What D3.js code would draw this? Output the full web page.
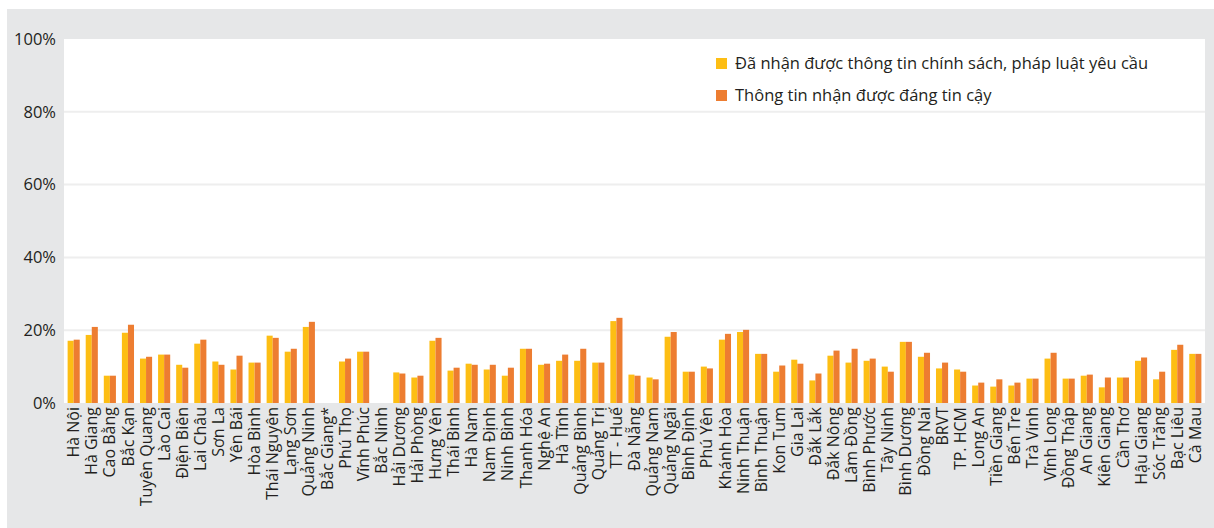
<!DOCTYPE html>
<html>
<head>
<meta charset="utf-8">
<script src="https://cdn.jsdelivr.net/npm/d3@7"></script>
<style>
  body { margin: 0; background: #fff; }
  svg { display: block; }
</style>
</head>
<body>
<div id="chart"></div>
<script>
var provinces = ["Hà Nội","Hà Giang","Cao Bằng","Bắc Kạn","Tuyên Quang","Lào Cai","Điện Biên","Lai Châu","Sơn La","Yên Bái",
  "Hòa Bình","Thái Nguyên","Lạng Sơn","Quảng Ninh","Bắc Giang*","Phú Thọ","Vĩnh Phúc","Bắc Ninh","Hải Dương","Hải Phòng",
  "Hưng Yên","Thái Bình","Hà Nam","Nam Định","Ninh Bình","Thanh Hóa","Nghệ An","Hà Tĩnh","Quảng Bình","Quảng Trị",
  "TT - Huế","Đà Nẵng","Quảng Nam","Quảng Ngãi","Bình Định","Phú Yên","Khánh Hòa","Ninh Thuận","Bình Thuận","Kon Tum",
  "Gia Lai","Đắk Lắk","Đắk Nông","Lâm Đồng","Bình Phước","Tây Ninh","Bình Dương","Đồng Nai","BRVT","TP. HCM",
  "Long An","Tiền Giang","Bến Tre","Trà Vinh","Vĩnh Long","Đồng Tháp","An Giang","Kiên Giang","Cần Thơ","Hậu Giang",
  "Sóc Trăng","Bạc Liêu","Cà Mau"];

// Đã nhận được thông tin chính sách, pháp luật yêu cầu (%)
var received = [17.1,18.7,7.5,19.3,12.2,13.3,10.5,16.3,11.4,9.2,
  11.1,18.5,14.1,20.9,0,11.4,14.1,0,8.4,7.0,
  17.1,8.9,10.8,9.2,7.5,14.9,10.5,11.6,11.6,11.1,
  22.5,7.8,7.0,18.2,8.6,10.0,17.4,19.5,13.5,8.6,
  11.9,6.2,13.0,11.1,11.6,10.0,16.8,12.7,9.5,9.2,
  4.8,4.5,4.8,6.7,12.2,6.7,7.5,4.3,7.0,11.6,
  6.5,14.6,13.5];

// Thông tin nhận được đáng tin cậy (%)
var reliable = [17.4,20.9,7.5,21.5,12.7,13.3,9.7,17.4,10.5,13.0,
  11.1,17.9,14.9,22.3,0,12.2,14.1,0,8.1,7.5,
  17.9,9.7,10.5,10.5,9.7,14.9,10.8,13.3,14.9,11.1,
  23.4,7.5,6.5,19.5,8.6,9.5,19.0,20.1,13.5,10.3,
  10.8,8.1,14.4,14.9,12.2,8.6,16.8,13.8,11.1,8.6,
  5.6,6.5,5.6,6.7,13.8,6.7,7.8,7.0,7.0,12.5,
  8.6,16.0,13.5];

var seriesNames = ["Đã nhận được thông tin chính sách, pháp luật yêu cầu", "Thông tin nhận được đáng tin cậy"];
var seriesColors = ["#FDBE14", "#ED7D31"];
var yTicks = [0, 20, 40, 60, 80, 100];

var W = 1214, H = 528;
var margin = {top: 39, right: 9, bottom: 125, left: 64};
var width = W - margin.left - margin.right,
    height = H - margin.top - margin.bottom;
var font = "'Open Sans', 'DejaVu Sans', sans-serif";

var svg = d3.select("#chart").append("svg")
  .attr("width", W)
  .attr("height", H);

svg.append("rect")
  .attr("x", 7).attr("y", 9)
  .attr("width", W - 7).attr("height", H - 9)
  .attr("fill", "#E6E7E8");

var g = svg.append("g")
  .attr("transform", "translate(" + margin.left + "," + margin.top + ")");

g.append("rect")
  .attr("width", width).attr("height", height)
  .attr("fill", "#fff");

var x0 = d3.scaleBand()
  .domain(provinces)
  .range([0, width])
  .paddingInner(0.33)
  .paddingOuter(0.2);

var x1 = d3.scaleBand()
  .domain([0, 1])
  .range([0, x0.bandwidth()]);

var y = d3.scaleLinear()
  .domain([0, 100])
  .range([height, 0]);

// grid
g.selectAll(".grid")
  .data(yTicks.filter(function(d) { return d > 0 && d < 100; }))
  .enter().append("line")
    .attr("x1", 0).attr("x2", width)
    .attr("y1", function(d) { return y(d); })
    .attr("y2", function(d) { return y(d); })
    .attr("stroke", "#EEEEEE")
    .attr("stroke-width", 2);

// y axis labels
var yAxis = g.append("g")
  .call(d3.axisLeft(y).tickValues(yTicks).tickSize(0).tickPadding(8).tickFormat(function(d) { return d + "%"; }));
yAxis.select(".domain").remove();
yAxis.selectAll("text")
  .style("font-family", font)
  .style("font-size", "16.5px")
  .attr("fill", "#231F20");

// bars
var data = provinces.map(function(p, i) { return {name: p, values: [received[i], reliable[i]]}; });

var groups = g.selectAll(".grp")
  .data(data)
  .enter().append("g")
    .attr("class", "grp")
    .attr("transform", function(d) { return "translate(" + x0(d.name) + ",0)"; });

groups.selectAll("rect")
  .data(function(d) { return d.values.map(function(v, k) { return {k: k, v: v}; }); })
  .enter().append("rect")
    .attr("x", function(d) { return x1(d.k); })
    .attr("y", function(d) { return y(d.v); })
    .attr("width", x1.bandwidth())
    .attr("height", function(d) { return height - y(d.v); })
    .attr("fill", function(d) { return seriesColors[d.k]; });

// x axis labels
var xAxis = g.append("g")
  .attr("transform", "translate(0," + height + ")")
  .call(d3.axisBottom(x0).tickSize(0).tickPadding(0));
xAxis.select(".domain").remove();
xAxis.selectAll("text")
  .style("font-family", font)
  .style("font-size", "16px")
  .attr("fill", "#231F20")
  .attr("text-anchor", "end")
  .attr("transform", "rotate(-90)")
  .attr("x", -4)
  .attr("y", 0)
  .attr("dy", "0.35em");

// legend
var legend = svg.selectAll(".legend")
  .data(seriesNames)
  .enter().append("g")
    .attr("class", "legend")
    .attr("transform", function(d, i) { return "translate(716," + (58 + i * 32) + ")"; });

legend.append("rect")
  .attr("width", 11).attr("height", 11)
  .attr("fill", function(d, i) { return seriesColors[i]; });

legend.append("text")
  .attr("x", 19)
  .attr("y", 5.5)
  .attr("dy", "0.35em")
  .style("font-family", font)
  .style("font-size", "16.5px")
  .attr("fill", "#231F20")
  .text(function(d) { return d; });
</script>
</body>
</html>
